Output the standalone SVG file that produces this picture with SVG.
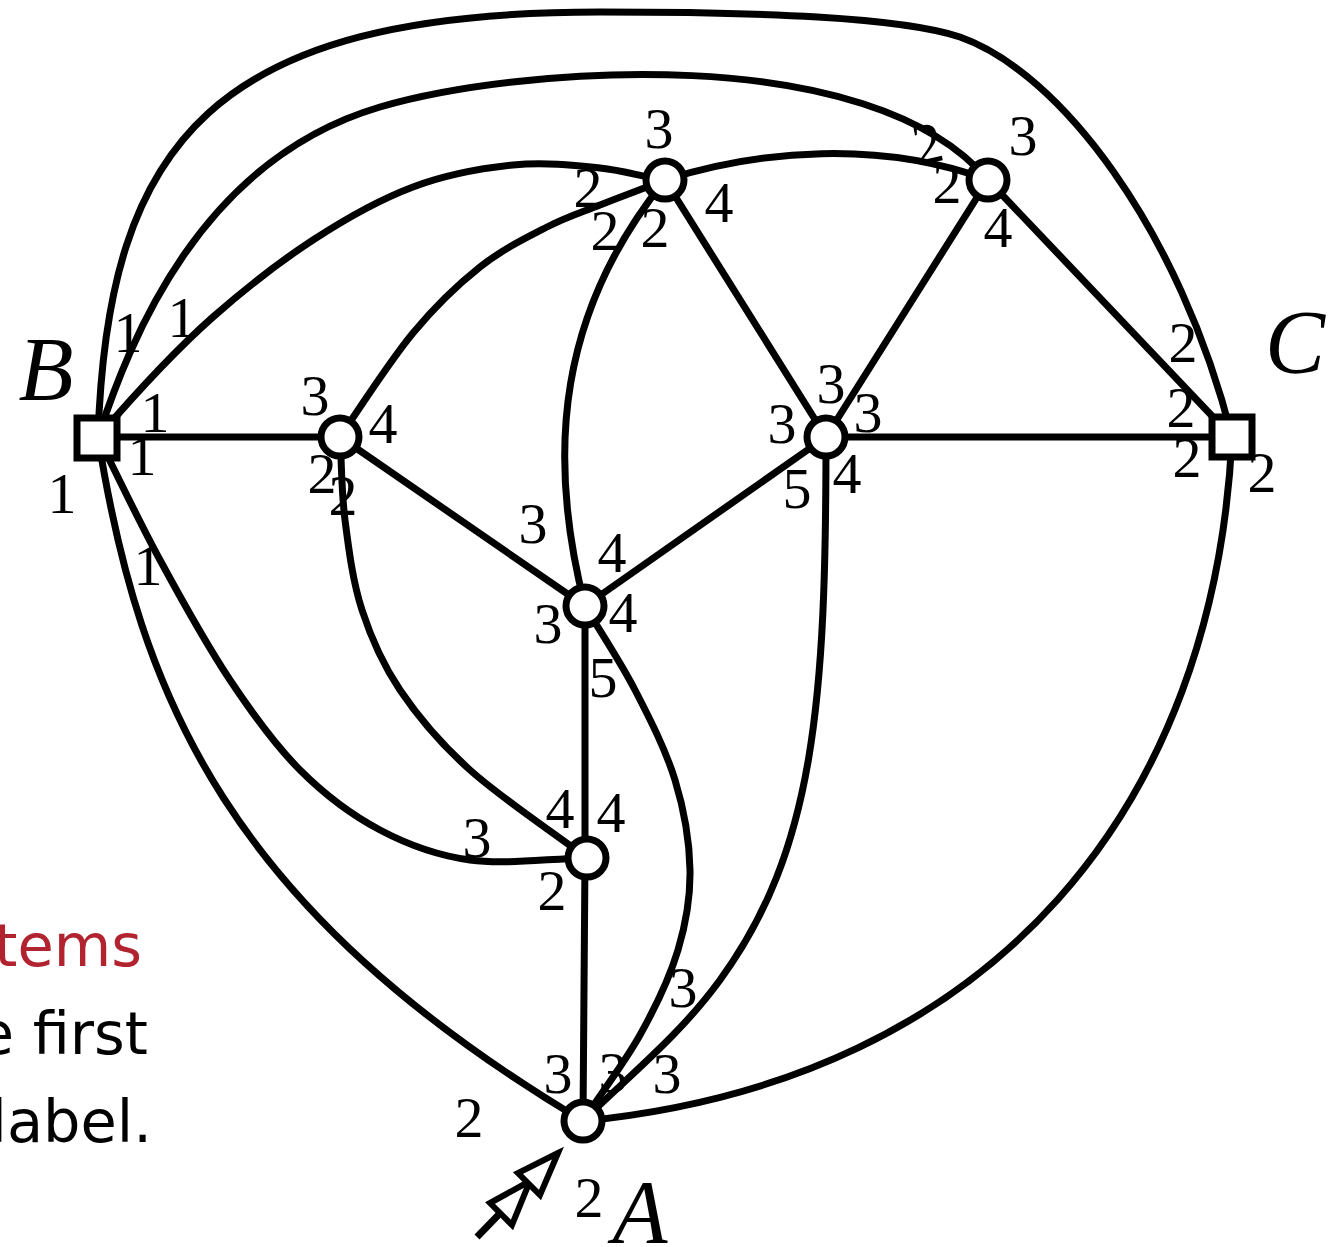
<svg xmlns="http://www.w3.org/2000/svg" width="1336" height="1247" viewBox="0 0 1336 1247">
<style>
.e{fill:none;stroke:#000;stroke-width:7;stroke-linecap:round}
.n{fill:#fff;stroke:#000;stroke-width:7}
.l{font-family:"Liberation Serif","DejaVu Serif",serif;font-size:58px;fill:#000;text-anchor:middle}
.big{font-family:"Liberation Serif","DejaVu Serif",serif;font-style:italic;font-size:90px;fill:#000;text-anchor:middle}
.t{font-family:"DejaVu Sans","Liberation Sans",sans-serif;font-size:59px;text-anchor:end}
</style>
<rect width="1336" height="1247" fill="#fff"/>
<g id="side-text">
<text class="t" x="142" y="966" fill="#B22330">tems</text>
<text class="t" x="148" y="1054" fill="#000">e first</text>
<text class="t" x="152" y="1142" fill="#000">label.</text>
</g>
<g id="labels">
<text class="l" x="659" y="148">3</text>
<text class="l" x="588" y="207">2</text>
<text class="l" x="605" y="250">2</text>
<text class="l" x="655" y="247">2</text>
<text class="l" x="719" y="222">4</text>
<text class="l" x="928" y="163" transform="rotate(-12 928 145)">2</text>
<text class="l" x="947" y="203">2</text>
<text class="l" x="1023" y="155">3</text>
<text class="l" x="998" y="247">4</text>
<text class="big" x="46" y="400">B</text>
<text class="l" x="128" y="352">1</text>
<text class="l" x="182" y="337">1</text>
<text class="l" x="155" y="432">1</text>
<text class="l" x="142" y="475">1</text>
<text class="l" x="62" y="513">1</text>
<text class="l" x="148" y="585">1</text>
<text class="big" x="1295" y="373">C</text>
<text class="l" x="1183" y="362">2</text>
<text class="l" x="1181" y="427">2</text>
<text class="l" x="1187" y="477">2</text>
<text class="l" x="1262" y="492">2</text>
<text class="l" x="315" y="415">3</text>
<text class="l" x="383" y="443">4</text>
<text class="l" x="322" y="493">2</text>
<text class="l" x="343" y="515">2</text>
<text class="l" x="831" y="403">3</text>
<text class="l" x="782" y="443">3</text>
<text class="l" x="868" y="432">3</text>
<text class="l" x="797" y="508">5</text>
<text class="l" x="847" y="493">4</text>
<text class="l" x="533" y="543">3</text>
<text class="l" x="612" y="572">4</text>
<text class="l" x="548" y="643">3</text>
<text class="l" x="623" y="632">4</text>
<text class="l" x="603" y="697">5</text>
<text class="l" x="560" y="828">4</text>
<text class="l" x="611" y="832">4</text>
<text class="l" x="477" y="857">3</text>
<text class="l" x="552" y="910">2</text>
<text class="l" x="558" y="1093">3</text>
<text class="l" x="613" y="1092">3</text>
<text class="l" x="667" y="1093">3</text>
<text class="l" x="683" y="1007">3</text>
<text class="l" x="469" y="1137">2</text>
<text class="l" x="589" y="1217">2</text>
<text class="big" x="640" y="1243">A</text>
</g>
<g id="connectors">
<path class="e" d="M98,437 C108,140 215,12 600,12 C760,12 900,17 960,37 C1060,72 1180,230 1232,437"/>
<path class="e" d="M98,437 C130,340 200,160 380,107 C520,66 870,40 988,180"/>
<path class="e" d="M98,437 C137.7,391 177.5,348.3 213,317 C248.5,285.7 279.7,261.7 313,240 C346.3,218.3 379.7,199.5 413,187 C446.3,174.5 481.8,168.2 513,165 C544.2,161.8 575,165.3 600,168 C625,170.7 642,176.7 665,180"/>
<path class="e" d="M665,180 C760,150 880,140 988,180"/>
<path class="e" d="M340,437 C364.3,401 390.5,360.2 413,333 C435.5,305.8 457.7,284.7 480,267 C502.3,249.3 527,237.3 547,227 C567,216.7 580.7,212.7 600,205 C619.3,197.3 642,189 665,180"/>
<path class="e" d="M665,180 C560,310 545,450 585,606"/>
<path class="e" d="M340,437 C341.7,463.3 341.3,490.8 345,520 C348.7,549.2 352.8,581.7 362,610 C371.2,638.3 382,663.3 400,690 C418,716.7 438.8,742 470,770 C501.2,798 548,828.7 587,858"/>
<path class="e" d="M98,437 C118.7,478 138,519.5 160,560 C182,600.5 206.7,645 230,680 C253.3,715 275,745 300,770 C325,795 351.7,815 380,830 C408.3,845 435.5,855.3 470,860 C504.5,864.7 548,858.7 587,858"/>
<path class="e" d="M98,437 C140,700 230,910 583,1121"/>
<path class="e" d="M585,606 C601.7,634 620,661 635,690 C650,719 665.8,750 675,780 C684.2,810 689.5,841.7 690,870 C690.5,898.3 686.3,922.5 678,950 C669.7,977.5 655.8,1006.7 640,1035 C624.2,1063.3 602,1091.7 583,1121"/>
<path class="e" d="M826,437 C826,700 815,850 720,980 C680,1035 630,1075 583,1121"/>
<path class="e" d="M1232,437 C1215,800 1000,1080 583,1121"/>
<line class="e" x1="98" y1="437" x2="340" y2="437"/>
<line class="e" x1="340" y1="437" x2="585" y2="606"/>
<line class="e" x1="826" y1="437" x2="585" y2="606"/>
<line class="e" x1="826" y1="437" x2="1232" y2="437"/>
<line class="e" x1="665" y1="180" x2="826" y2="437"/>
<line class="e" x1="988" y1="180" x2="826" y2="437"/>
<line class="e" x1="988" y1="180" x2="1232" y2="437"/>
<line class="e" x1="585" y1="606" x2="585" y2="858"/>
<line class="e" x1="585" y1="858" x2="583" y2="1121"/>
</g>
<g id="node-B"><rect class="n" x="77" y="418" width="40" height="40"/></g>
<g id="node-C"><rect class="n" x="1212" y="417" width="40" height="40"/></g>
<g id="node-1"><circle class="n" cx="665" cy="180" r="19"/></g>
<g id="node-2"><circle class="n" cx="988" cy="180" r="19"/></g>
<g id="node-3"><circle class="n" cx="340" cy="437" r="19"/></g>
<g id="node-4"><circle class="n" cx="826" cy="437" r="19"/></g>
<g id="node-5"><circle class="n" cx="585" cy="606" r="19"/></g>
<g id="node-6"><circle class="n" cx="587" cy="858" r="19"/></g>
<g id="node-A"><circle class="n" cx="583" cy="1121" r="19"/></g>
<g id="start-arrow" stroke="#000" stroke-width="6" stroke-linejoin="miter">
<line x1="477" y1="1237" x2="540" y2="1172" stroke-width="7"/>
<polygon points="530,1181 490,1203 512,1225" fill="#fff"/>
<polygon points="558,1153 518,1173 540,1195" fill="#fff"/>
</g>
</svg>
